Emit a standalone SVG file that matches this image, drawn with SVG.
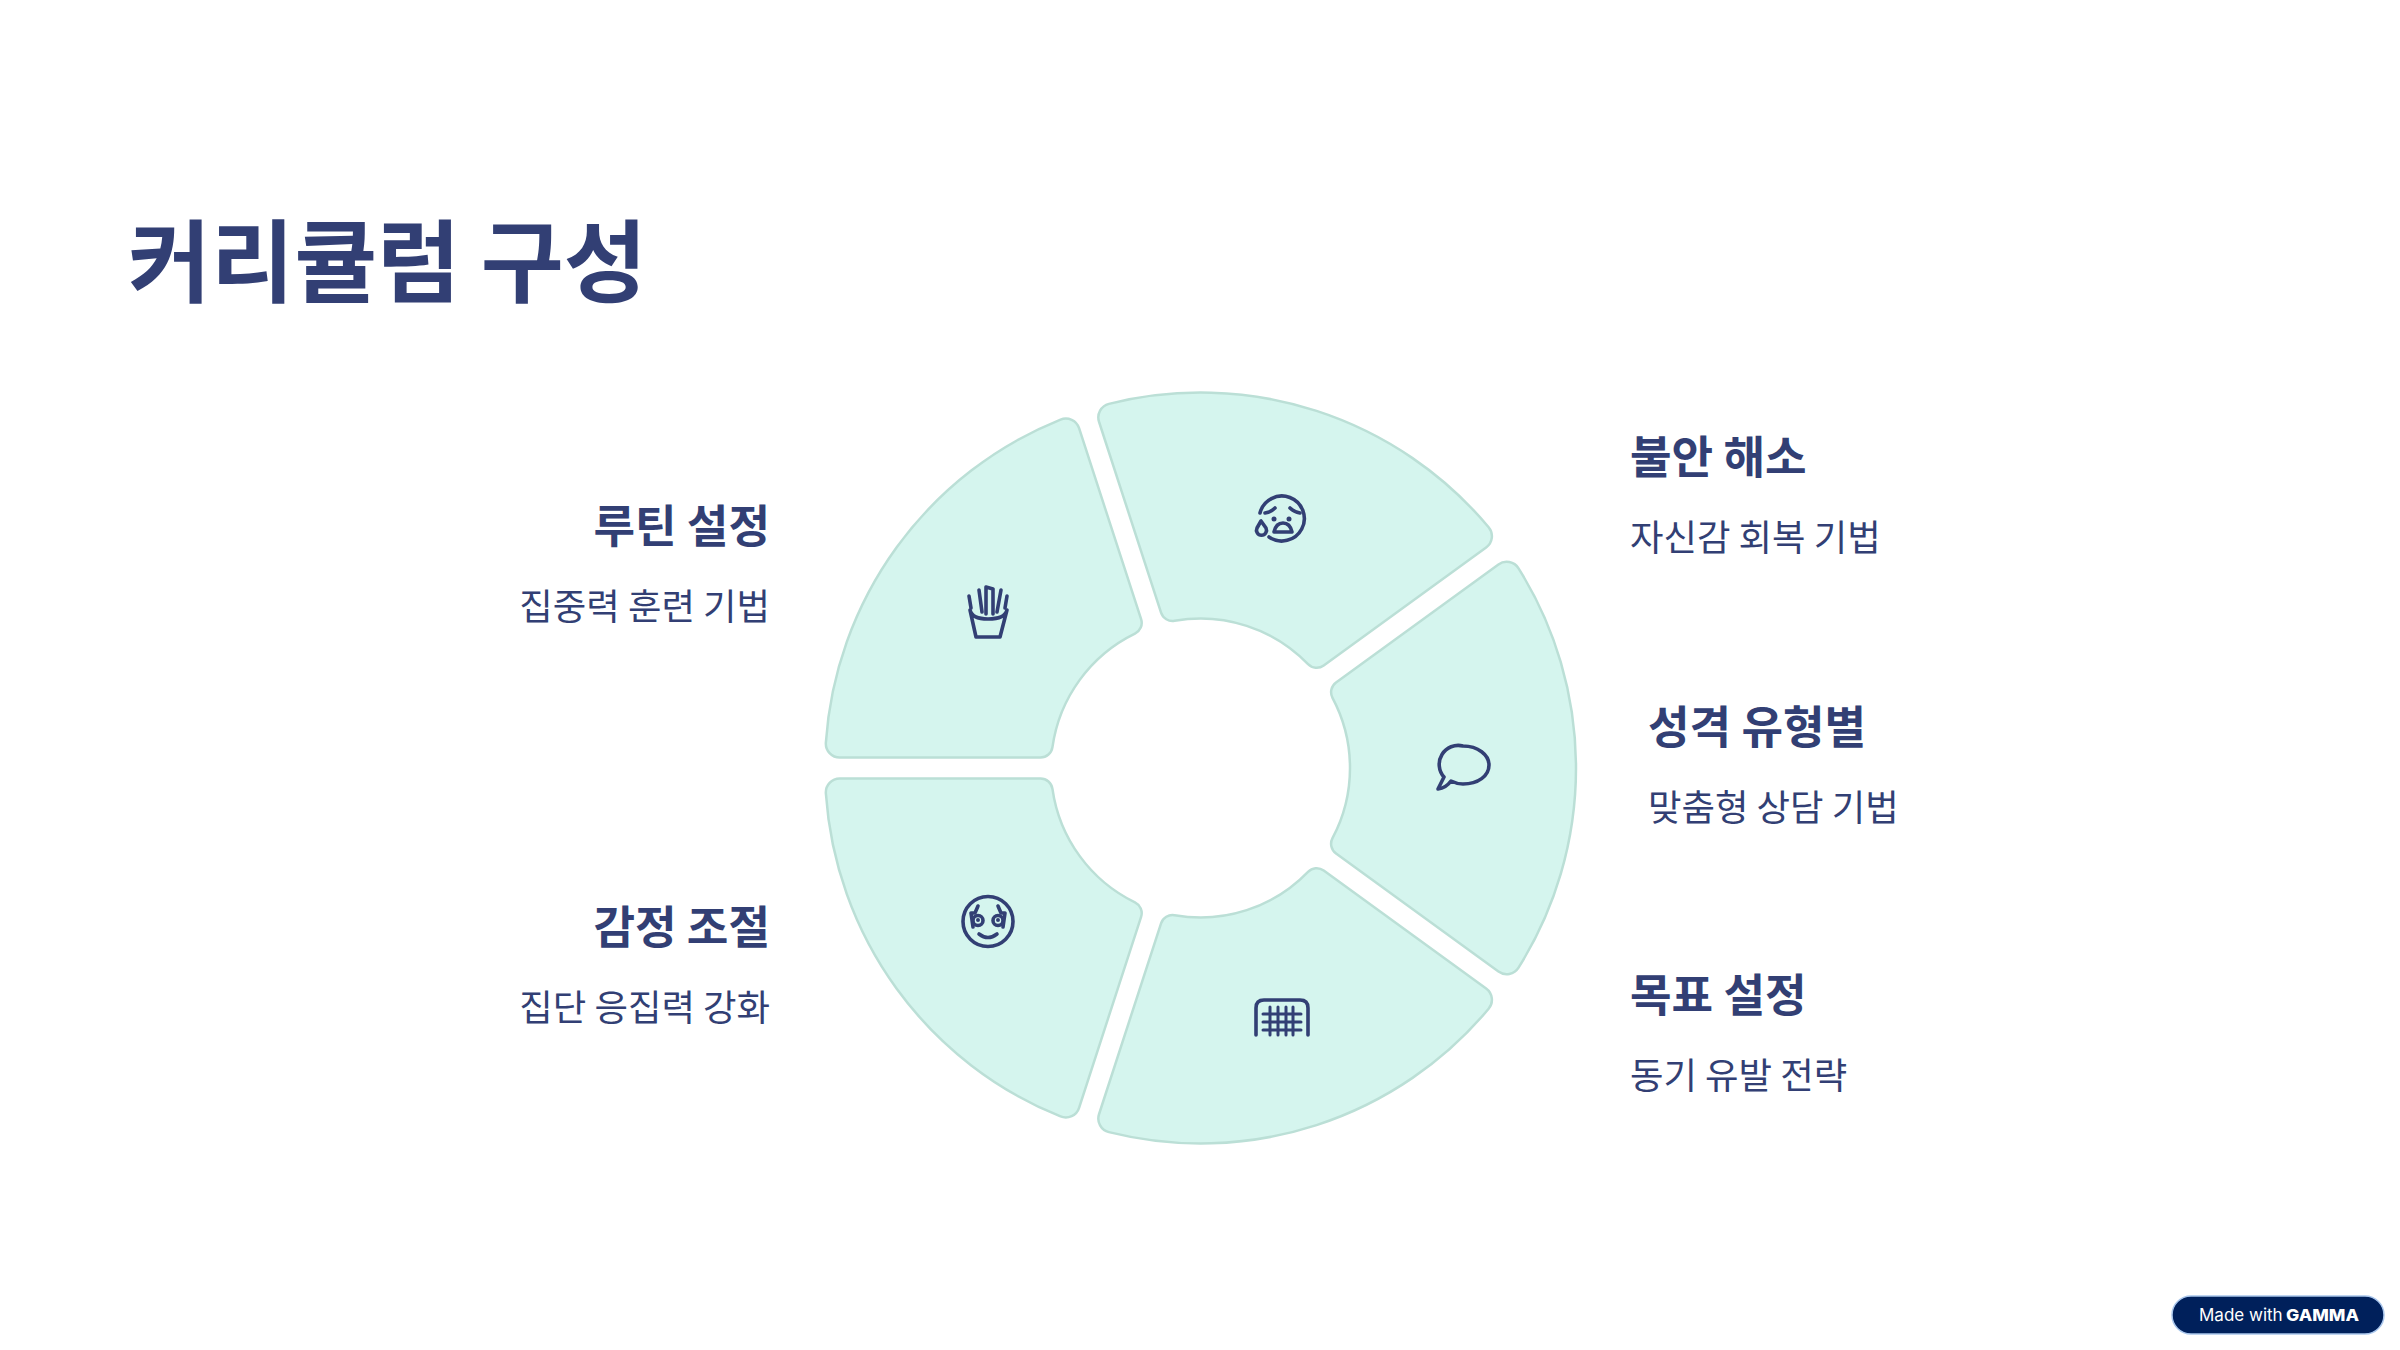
<svg xmlns="http://www.w3.org/2000/svg" width="2400" height="1350" viewBox="0 0 2400 1350">
<style>
text{font-family:"Noto Sans CJK KR","Noto Sans",sans-serif;fill:#323F74}
.title{font-size:90.3px;font-weight:700}
.h{font-size:45.2px;font-weight:700}
.s{font-size:36.4px;font-weight:400}
.e{text-anchor:end}
.seg{fill:#D5F5EE;stroke:#BBDFD6;stroke-width:2.5}
.i{fill:none;stroke:#323F74;stroke-width:3.6;stroke-linecap:round;stroke-linejoin:round}
.f{fill:#323F74;stroke:none}
</style>
<defs>
<path id="seg" class="seg" d="M135.55,-85.51L297.95,-203.51A14,14 0 0 1 318.04,-199.62A375.5,375.5 0 0 1 318.04,199.62A14,14 0 0 1 297.95,203.51L135.55,85.51A12,12 0 0 1 132.01,70.17A149.5,149.5 0 0 0 132.01,-70.17A12,12 0 0 1 135.55,-85.51Z"/>
</defs>
<rect width="2400" height="1350" fill="#FFFFFF"/>
<text id="title" class="title" x="128" y="295">커리큘럼 구성</text>
<g id="node-anxiety">
<use href="#seg" transform="translate(1200.5 768) rotate(-72)"/>
<circle class="f" cx="1274" cy="519" r="2.5"/><circle class="f" cx="1289" cy="519" r="2.5"/>
<path class="i" d="M1260,513A22.5,22.5 0 1 1 1269,537"/>
<path class="i" d="M1265,513Q1271,512 1275,508M1300,513Q1294,512 1290,508"/>
<path class="i" d="M1261,521L1257,528A5,5 0 1 0 1266,528Z"/>
<path class="i" d="M1274,532Q1276,523 1283,523Q1290,523 1292,532Z"/>
<text class="h" x="1630" y="474">불안 해소</text>
<text class="s" x="1630" y="551">자신감 회복 기법</text>
</g>
<g id="node-personality">
<use href="#seg" transform="translate(1200.5 768)"/>
<path class="i" d="M1438,789L1444,777A19,19 0 0 1 1463,746C1478,746 1489,755 1489,765C1489,776 1478,784 1463,784C1459,784 1455,783 1451,781Q1446,788 1438,789Z"/>
<text class="h" x="1648" y="744">성격 유형별</text>
<text class="s" x="1648" y="821">맞춤형 상담 기법</text>
</g>
<g id="node-goal">
<use href="#seg" transform="translate(1200.5 768) rotate(72)"/>
<path class="i" d="M1256,1035V1008Q1256,1000 1264,1000H1300Q1308,1000 1308,1008V1035"/>
<path class="i" style="stroke-width:3" d="M1270,1007V1035M1278,1007V1035M1286,1007V1035M1293,1007V1035M1263,1014H1301M1263,1022H1301M1263,1030H1301"/>
<text class="h" x="1630" y="1012">목표 설정</text>
<text class="s" x="1630" y="1089">동기 유발 전략</text>
</g>
<g id="node-emotion">
<use href="#seg" transform="translate(1200.5 768) rotate(144)"/>
<circle class="i" cx="988" cy="921.5" r="25"/>
<circle class="i" cx="978" cy="920.5" r="5"/><circle class="i" cx="998" cy="920.5" r="5"/>
<circle class="f" cx="978" cy="920" r="2"/><circle class="f" cx="998" cy="920" r="2"/>
<path class="i" d="M971,913H975L978,906M1005,913H1001L998,906M971,913L973,927M1005,913L1003,927"/>
<path class="i" d="M979,934Q988,941 997,934"/>
<text class="h e" x="770" y="944">감정 조절</text>
<text class="s e" x="770" y="1021">집단 응집력 강화</text>
</g>
<g id="node-routine">
<use href="#seg" transform="translate(1200.5 768) rotate(-144)"/>
<path class="i" d="M970,610Q972,619 988,619Q1005,619 1007,610L1000,637H976Z"/>
<path class="i" d="M969,596L971,608M1007,596L1005,608M979,590L982,612M986,587V614M993,589V614M986,587L993,589M1001,590L997,612"/>
<text class="h e" x="770" y="543">루틴 설정</text>
<text class="s e" x="770" y="620">집중력 훈련 기법</text>
</g>
<g id="badge">
<rect x="2172" y="1296" width="212" height="38" rx="19" fill="#00205B" stroke="#A9C6EC" stroke-width="1.5"/>
<text x="2199" y="1321" style="font-family:Inter,sans-serif;font-size:17px;fill:#FFFFFF">Made with</text>
<text x="2286" y="1321" textLength="73" lengthAdjust="spacingAndGlyphs" style="font-family:Inter,sans-serif;font-size:16px;font-weight:800;fill:#FFFFFF">GAMMA</text>
</g>
</svg>
